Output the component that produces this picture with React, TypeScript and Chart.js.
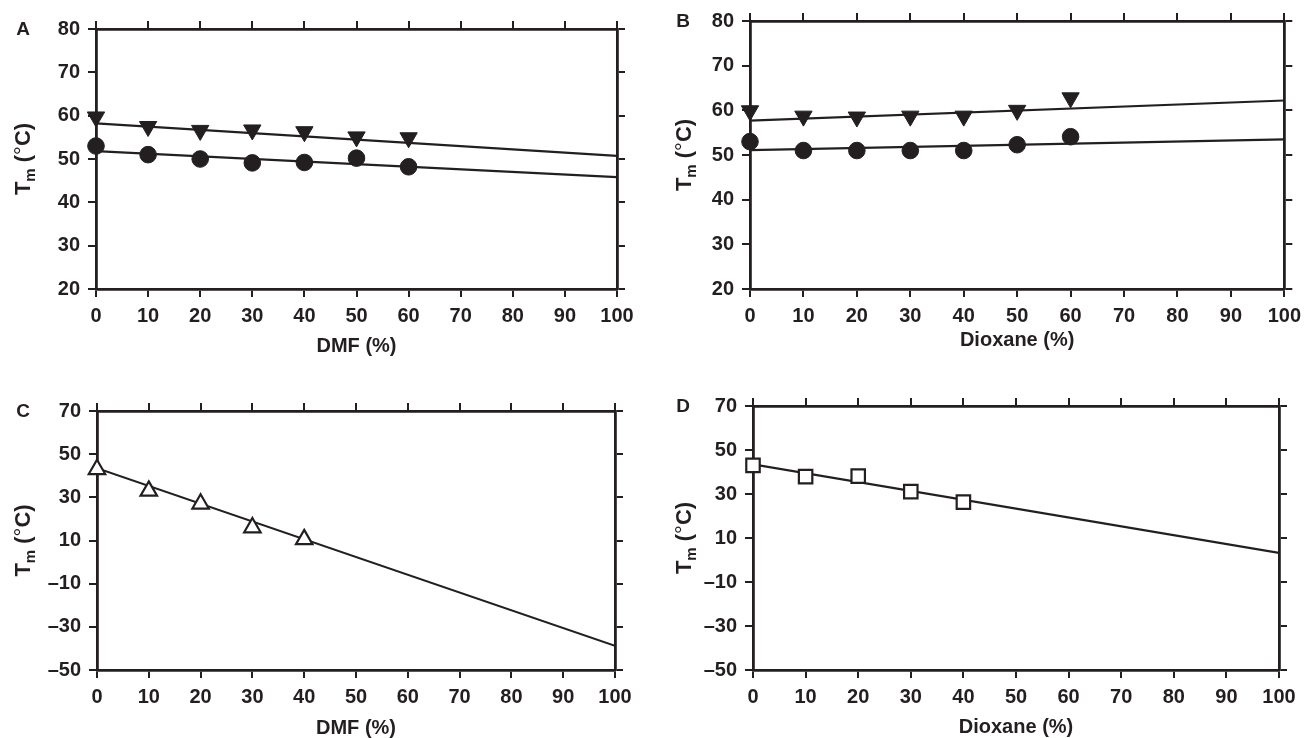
import React, { useEffect, useRef } from 'react';
import { Chart, registerables } from 'chart.js';

Chart.register(...registerables);

const INK = '#231f20';
const FAMILY = "'Liberation Sans', Arial, Helvetica, sans-serif";

// ---- data ----
const xSeven = [0, 10, 20, 30, 40, 50, 60];
const xFive = [0, 10, 20, 30, 40];
const fitX = [0, 100];

const aTriangles = [59.7, 57.5, 56.6, 56.7, 56.3, 55.1, 54.9];
const aCircles = [53.0, 51.0, 50.0, 49.1, 49.2, 50.2, 48.2];
const aFitTriangles = [58.2, 50.7];
const aFitCircles = [51.8, 45.8];

const bTriangles = [59.9, 58.7, 58.5, 58.7, 58.7, 60.0, 62.8];
const bCircles = [53.0, 51.0, 51.0, 51.0, 51.0, 52.3, 54.1];
const bFitTriangles = [57.7, 62.2];
const bFitCircles = [51.1, 53.5];

const cTriangles = [43.0, 33.0, 27.0, 16.0, 10.5];
const cFit = [43.5, -38.8];

const dSquares = [43.0, 37.9, 38.1, 31.1, 26.3];
const dFit = [43.5, 3.2];

const xRange = [0, 100];
const xStep = 10;
const yRangeTop = [20, 80];
const yStepTop = 10;
const yRangeBottom = [-50, 70];
const yStepBottom = 20;

const xTitleDMF = 'DMF (%)';
const xTitleDioxane = 'Dioxane (%)';
const panelLetters = ['A', 'B', 'C', 'D'];

const pts = (xs: number[], ys: number[]) => xs.map((x, i) => ({ x, y: ys[i] }));

const markerSet = (data: any, style: string, rotation: number, radius: number, filled: boolean) => ({
  data,
  showLine: false,
  pointStyle: style,
  rotation,
  pointRadius: radius,
  pointHoverRadius: radius,
  pointBackgroundColor: filled ? INK : '#ffffff',
  pointBorderColor: INK,
  pointBorderWidth: filled ? 1 : 2.2,
  clip: false,
});

const fitSet = (data: any) => ({
  data,
  showLine: true,
  borderColor: INK,
  borderWidth: 2.2,
  pointRadius: 0,
  pointHoverRadius: 0,
  fill: false,
});

const decorPlugin = {
  id: 'decor',
  afterDraw(chart: any, _args: any, opts: any) {
    const ctx = chart.ctx as CanvasRenderingContext2D;
    const { top, bottom } = chart.chartArea;
    ctx.save();
    ctx.fillStyle = INK;
    ctx.font = `bold 19px ${FAMILY}`;
    ctx.textAlign = 'center';
    ctx.textBaseline = 'middle';
    ctx.fillText(opts.letter, opts.letterX, top + 1);

    const big = `bold 22px ${FAMILY}`;
    const bigNormal = `normal 22px ${FAMILY}`;
    const small = `bold 15px ${FAMILY}`;
    const parts: [string, string, number][] = [
      ['T', big, 0],
      ['m', small, 5],
      [' (', big, 0],
      ['\u00B0', bigNormal, 0],
      ['C)', big, 0],
    ];
    let total = 0;
    const widths = parts.map(([t, f]) => {
      ctx.font = f;
      const w = ctx.measureText(t).width;
      total += w;
      return w;
    });
    ctx.translate(opts.titleX, (top + bottom) / 2);
    ctx.rotate(-Math.PI / 2);
    ctx.textAlign = 'left';
    ctx.textBaseline = 'alphabetic';
    let x = -total / 2;
    const base = 7.5;
    parts.forEach(([t, f, dy], i) => {
      ctx.font = f;
      ctx.fillText(t, x, base + dy);
      x += widths[i];
    });
    ctx.restore();
  },
};

type PanelSpec = {
  letter: string;
  left: number;
  top: number;
  width: number;
  height: number;
  boxLeft: number;
  boxRight: number;
  boxTop: number;
  boxBottom: number;
  titlePad: number;
  letterX: number;
  titleX: number;
  xTitle: string;
  yRange: number[];
  yStep: number;
  datasets: any[];
};

const panels: PanelSpec[] = [
  {
    letter: panelLetters[0], left: 0, top: 0, width: 654, height: 369,
    boxLeft: 96, boxRight: 37, boxTop: 29, boxBottom: 80, titlePad: 11,
    letterX: 23, titleX: 22, xTitle: xTitleDMF, yRange: yRangeTop, yStep: yStepTop,
    datasets: [
      markerSet(pts(xSeven, aTriangles), 'triangle', 180, 10, true),
      markerSet(pts(xSeven, aCircles), 'circle', 0, 8.3, true),
      fitSet(pts(fitX, aFitTriangles)),
      fitSet(pts(fitX, aFitCircles)),
    ],
  },
  {
    letter: panelLetters[1], left: 654, top: 0, width: 654, height: 369,
    boxLeft: 96, boxRight: 20, boxTop: 21, boxBottom: 80, titlePad: 17,
    letterX: 29, titleX: 29, xTitle: xTitleDioxane, yRange: yRangeTop, yStep: yStepTop,
    datasets: [
      markerSet(pts(xSeven, bTriangles), 'triangle', 180, 10, true),
      markerSet(pts(xSeven, bCircles), 'circle', 0, 8.3, true),
      fitSet(pts(fitX, bFitTriangles)),
      fitSet(pts(fitX, bFitCircles)),
    ],
  },
  {
    letter: panelLetters[2], left: 0, top: 369, width: 654, height: 380,
    boxLeft: 97, boxRight: 39, boxTop: 42, boxBottom: 79, titlePad: 9,
    letterX: 23, titleX: 22, xTitle: xTitleDMF, yRange: yRangeBottom, yStep: yStepBottom,
    datasets: [
      markerSet(pts(xFive, cTriangles), 'triangle', 0, 9.5, false),
      fitSet(pts(fitX, cFit)),
    ],
  },
  {
    letter: panelLetters[3], left: 654, top: 369, width: 654, height: 380,
    boxLeft: 99, boxRight: 29, boxTop: 37, boxBottom: 79, titlePad: 10,
    letterX: 29, titleX: 29, xTitle: xTitleDioxane, yRange: yRangeBottom, yStep: yStepBottom,
    datasets: [
      markerSet(pts(xFive, dSquares), 'rect', 0, 9.5, false),
      fitSet(pts(fitX, dFit)),
    ],
  },
];

const tickFont = { family: FAMILY, size: 20, weight: 'bold' as const };

const gridOpts = {
  drawOnChartArea: false,
  drawTicks: true,
  tickLength: 8,
  tickWidth: 2,
  tickColor: INK,
  color: INK,
  lineWidth: 2,
};
const borderOpts = { display: true, width: 2.8, color: INK };

function Panel({ p }: { p: PanelSpec }) {
  const ref = useRef<HTMLCanvasElement | null>(null);
  useEffect(() => {
    if (!ref.current) return;
    const fmt = (v: any) => String(v).replace('-', '\u2013');
    const chart = new Chart(ref.current, {
      type: 'scatter',
      data: { datasets: p.datasets },
      plugins: [decorPlugin],
      options: {
        responsive: false,
        animation: false,
        events: [],
        layout: { padding: 0 },
        plugins: {
          legend: { display: false },
          tooltip: { enabled: false },
          // @ts-ignore
          decor: { letter: p.letter, letterX: p.letterX, titleX: p.titleX },
        },
        scales: {
          x: {
            type: 'linear', position: 'bottom', min: xRange[0], max: xRange[1],
            afterFit: (s: any) => { s.height = p.boxBottom; },
            ticks: { stepSize: xStep, padding: 7, color: INK, font: tickFont, maxRotation: 0, autoSkip: false },
            grid: gridOpts, border: borderOpts,
            title: { display: true, text: p.xTitle, color: INK, font: tickFont, padding: { top: 0, bottom: p.titlePad } },
          },
          x2: {
            type: 'linear', position: 'top', min: xRange[0], max: xRange[1],
            afterFit: (s: any) => { s.height = p.boxTop; },
            ticks: { stepSize: xStep, display: false },
            grid: gridOpts, border: borderOpts,
          },
          y: {
            type: 'linear', position: 'left', min: p.yRange[0], max: p.yRange[1],
            afterFit: (s: any) => { s.width = p.boxLeft; },
            ticks: { stepSize: p.yStep, padding: 8, color: INK, font: tickFont, callback: fmt },
            grid: gridOpts, border: borderOpts,
          },
          y2: {
            type: 'linear', position: 'right', min: p.yRange[0], max: p.yRange[1],
            afterFit: (s: any) => { s.width = p.boxRight; },
            ticks: { stepSize: p.yStep, display: false },
            grid: gridOpts, border: borderOpts,
          },
        },
      } as any,
    });
    return () => chart.destroy();
  }, [p]);
  return (
    <canvas
      ref={ref}
      width={p.width}
      height={p.height}
      style={{ position: 'absolute', left: p.left, top: p.top, width: p.width, height: p.height }}
    />
  );
}

export default function App() {
  return (
    <div style={{ position: 'absolute', left: 0, top: 0, width: 1308, height: 738, overflow: 'hidden', background: '#ffffff' }}>
      {panels.map((p) => <Panel key={p.letter} p={p} />)}
    </div>
  );
}
